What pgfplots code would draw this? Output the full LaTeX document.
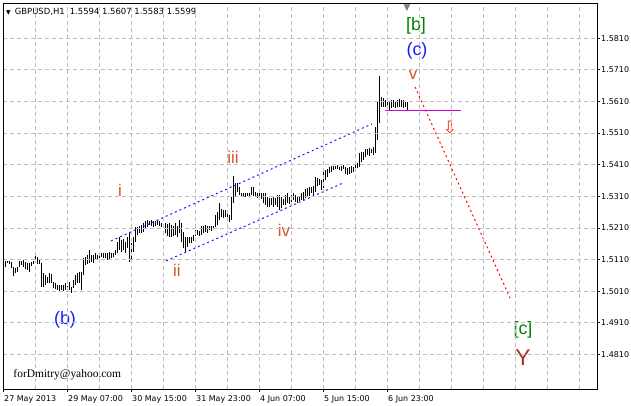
\documentclass[border=0pt]{standalone}
\usepackage{fontspec}
\setmainfont{DejaVu Sans}
\newfontfamily\arialfont{Liberation Sans}
\newfontfamily\serifont{Liberation Serif}
\usepackage{pgfplots}
\pgfplotsset{compat=1.18}
\usepackage{pgfplotstable}

\definecolor{wavered}{RGB}{205,85,40}
\definecolor{wavebrown}{RGB}{170,50,40}
\definecolor{waveblue}{RGB}{25,25,255}
\definecolor{wavegreen}{RGB}{0,128,0}
\definecolor{gridgray}{RGB}{190,190,190}
\definecolor{levelmag}{RGB}{215,0,215}

% GBPUSD H1 bars: bar number, low, high
\pgfplotstableread{
n lo hi
0 1.5087 1.5106
1 1.5100 1.5106
2 1.5096 1.5106
3 1.5084 1.5103
4 1.5058 1.5087
5 1.5068 1.5084
6 1.5071 1.5087
7 1.5087 1.5106
8 1.5093 1.5106
9 1.5087 1.5109
10 1.5081 1.5103
11 1.5077 1.5100
12 1.5071 1.5100
13 1.5090 1.5103
14 1.5096 1.5106
15 1.5100 1.5131
16 1.5096 1.5118
17 1.5096 1.5109
18 1.5024 1.5100
19 1.5024 1.5068
20 1.5030 1.5062
21 1.5036 1.5055
22 1.5036 1.5068
23 1.5036 1.5065
24 1.5021 1.5040
25 1.5018 1.5036
26 1.5014 1.5030
27 1.5011 1.5030
28 1.5014 1.5030
29 1.5011 1.5030
30 1.5014 1.5036
31 1.5014 1.5027
32 1.5014 1.5040
33 1.5005 1.5024
34 1.5021 1.5046
35 1.5030 1.5062
36 1.5036 1.5068
37 1.5036 1.5071
38 1.5014 1.5071
39 1.5062 1.5115
40 1.5093 1.5118
41 1.5096 1.5125
42 1.5100 1.5141
43 1.5103 1.5125
44 1.5100 1.5125
45 1.5109 1.5131
46 1.5109 1.5125
47 1.5115 1.5131
48 1.5118 1.5131
49 1.5115 1.5131
50 1.5115 1.5131
51 1.5109 1.5131
52 1.5109 1.5134
53 1.5115 1.5131
54 1.5118 1.5131
55 1.5125 1.5141
56 1.5131 1.5166
57 1.5141 1.5182
58 1.5134 1.5172
59 1.5141 1.5175
60 1.5131 1.5166
61 1.5147 1.5182
62 1.5103 1.5194
63 1.5103 1.5163
64 1.5134 1.5182
65 1.5166 1.5213
66 1.5188 1.5213
67 1.5194 1.5216
68 1.5194 1.5220
69 1.5197 1.5226
70 1.5207 1.5232
71 1.5213 1.5235
72 1.5220 1.5232
73 1.5216 1.5235
74 1.5213 1.5232
75 1.5216 1.5232
76 1.5220 1.5235
77 1.5216 1.5232
78 1.5213 1.5226
79 1.5210 1.5223
80 1.5194 1.5226
81 1.5185 1.5223
82 1.5182 1.5226
83 1.5182 1.5220
84 1.5185 1.5216
85 1.5188 1.5226
86 1.5182 1.5216
87 1.5194 1.5235
88 1.5166 1.5226
89 1.5147 1.5197
90 1.5134 1.5182
91 1.5150 1.5182
92 1.5163 1.5182
93 1.5163 1.5182
94 1.5169 1.5188
95 1.5185 1.5204
96 1.5188 1.5204
97 1.5185 1.5201
98 1.5188 1.5216
99 1.5194 1.5216
100 1.5197 1.5220
101 1.5194 1.5216
102 1.5204 1.5216
103 1.5201 1.5216
104 1.5207 1.5216
105 1.5213 1.5251
106 1.5220 1.5261
107 1.5235 1.5289
108 1.5245 1.5270
109 1.5242 1.5267
110 1.5245 1.5267
111 1.5235 1.5261
112 1.5229 1.5251
113 1.5235 1.5308
114 1.5289 1.5374
115 1.5308 1.5352
116 1.5324 1.5352
117 1.5314 1.5340
118 1.5308 1.5321
119 1.5308 1.5321
120 1.5308 1.5321
121 1.5311 1.5321
122 1.5308 1.5321
123 1.5314 1.5340
124 1.5311 1.5340
125 1.5308 1.5324
126 1.5305 1.5321
127 1.5308 1.5321
128 1.5302 1.5321
129 1.5289 1.5321
130 1.5283 1.5321
131 1.5276 1.5308
132 1.5276 1.5305
133 1.5283 1.5305
134 1.5276 1.5308
135 1.5283 1.5305
136 1.5276 1.5314
137 1.5267 1.5314
138 1.5273 1.5308
139 1.5283 1.5302
140 1.5283 1.5314
141 1.5289 1.5321
142 1.5286 1.5308
143 1.5292 1.5314
144 1.5299 1.5321
145 1.5292 1.5314
146 1.5289 1.5308
147 1.5295 1.5311
148 1.5299 1.5321
149 1.5299 1.5324
150 1.5305 1.5333
151 1.5308 1.5336
152 1.5311 1.5340
153 1.5321 1.5340
154 1.5308 1.5343
155 1.5324 1.5371
156 1.5343 1.5368
157 1.5346 1.5365
158 1.5330 1.5362
159 1.5336 1.5396
160 1.5362 1.5393
161 1.5371 1.5396
162 1.5384 1.5403
163 1.5387 1.5406
164 1.5393 1.5406
165 1.5396 1.5406
166 1.5396 1.5409
167 1.5393 1.5403
168 1.5390 1.5406
169 1.5396 1.5409
170 1.5381 1.5403
171 1.5378 1.5400
172 1.5381 1.5403
173 1.5384 1.5406
174 1.5387 1.5403
175 1.5396 1.5419
176 1.5400 1.5416
177 1.5403 1.5447
178 1.5419 1.5450
179 1.5425 1.5450
180 1.5434 1.5460
181 1.5441 1.5460
182 1.5438 1.5463
183 1.5447 1.5460
184 1.5441 1.5466
185 1.5447 1.5529
186 1.5488 1.5608
187 1.5542 1.5691
188 1.5592 1.5624
189 1.5592 1.5621
190 1.5592 1.5615
191 1.5592 1.5611
192 1.5583 1.5608
193 1.5589 1.5615
194 1.5592 1.5615
195 1.5589 1.5608
196 1.5592 1.5615
197 1.5592 1.5618
198 1.5592 1.5615
199 1.5589 1.5615
200 1.5592 1.5608
201 1.5583 1.5607
}\bars

\begin{document}
\begin{tikzpicture}
\fill[white] (0,0) rectangle (631bp,406bp);
\path[use as bounding box] (0,0) rectangle (631bp,406bp);
\begin{axis}[
    at={(3bp,17bp)}, anchor=south west,
    scale only axis,
    width=594bp, height=385bp,
    xmin=-1, xmax=296,
    ymin=1.4701, ymax=1.5918,
    axis line style={line width=1bp},
    tick align=outside,
    major tick length=3bp,
    minor tick length=0pt,
    tick style={black, line width=0.8bp},
    xtick pos=bottom, ytick pos=right,
    yticklabel pos=right,
    xtick={-1,31,63,95,127,159,191},
    xticklabels={27 May 2013, 29 May 07:00, 30 May 15:00, 31 May 23:00, 4 Jun 07:00, 5 Jun 15:00, 6 Jun 23:00},
    minor xtick={15,31,...,287},
    ytick={1.481,1.491,1.501,1.511,1.521,1.531,1.541,1.551,1.561,1.571,1.581},
    yticklabel={\pgfmathprintnumber[fixed,fixed zerofill,precision=4]{\tick}},
    /pgf/number format/assume math mode=true,
    ticklabel style={font=\fontsize{8}{9}\selectfont},
    xticklabel style={anchor=north west, inner sep=0pt, xshift=1bp, yshift=-3bp},
    yticklabel style={anchor=west, inner sep=0pt, xshift=1bp},
    xminorgrids, ymajorgrids, xmajorgrids=false,
    grid style={gridgray, line width=0.8bp, dash pattern=on 4bp off 3bp},
    minor grid style={gridgray, line width=0.8bp, dash pattern=on 4bp off 3bp},
    axis on top,
]
% price bars
\addplot[draw=none, mark=none,
    error bars/.cd, y dir=minus, y explicit, error mark=none,
    error bar style={draw=black, solid, line width=1bp}]
    table[x=n, y=hi, y error expr=\thisrow{hi}-\thisrow{lo}] {\bars};

% channel lines
\addplot[waveblue, line width=1bp, dash pattern=on 2bp off 3bp] coordinates {(53,1.5169) (183.5,1.5539)};
\addplot[waveblue, line width=1bp, dash pattern=on 2bp off 3bp] coordinates {(80.5,1.5106) (169,1.5352)};
% projection and level
\addplot[red, line width=1bp, dash pattern=on 2bp off 3bp] coordinates {(205,1.5656) (252.5,1.4989)};
\addplot[levelmag, line width=1bp] coordinates {(190,1.5580) (228,1.5580)};

% wave labels
\node[text=waveblue, font=\arialfont\fontsize{18}{18}\selectfont] at (axis cs:30,1.4919) {(b)};
\node[text=wavered, font=\arialfont\fontsize{17}{17}\selectfont] at (axis cs:57.5,1.5330) {i};
\node[text=wavered, font=\arialfont\fontsize{17}{17}\selectfont] at (axis cs:86,1.5077) {ii};
\node[text=wavered, font=\arialfont\fontsize{17}{17}\selectfont] at (axis cs:114,1.5434) {iii};
\node[text=wavered, font=\arialfont\fontsize{17}{17}\selectfont] at (axis cs:139.5,1.5204) {iv};
\node[text=wavered, font=\arialfont\fontsize{17}{17}\selectfont] at (axis cs:204,1.5694) {v};
\node[text=waveblue, font=\arialfont\fontsize{18}{18}\selectfont] at (axis cs:206,1.5770) {(c)};
\node[text=wavegreen, font=\arialfont\fontsize{18}{18}\selectfont] at (axis cs:205.5,1.5849) {[b]};
\node[text=wavegreen, font=\arialfont\fontsize{18}{18}\selectfont] at (axis cs:259,1.4888) {[c]};
\node[text=wavebrown, font=\arialfont\fontsize{23}{23}\selectfont] at (axis cs:259,1.4799) {Y};
\node[text=red!80!orange, font=\fontsize{17}{17}\selectfont] at (axis cs:222.5,1.5527) {⇩};

% chart header, shift marker, signature
\node[anchor=base west, inner sep=0pt, font=\fontsize{8.5}{9}\selectfont] at (rel axis cs:0,1) [xshift=3bp, yshift=-11bp] {{\fontsize{6}{6}\selectfont ▼}\hspace{4bp}GBPUSD,H1\hspace{5bp}1.5594 1.5607 1.5583 1.5599};
\node[anchor=north, inner sep=0pt, text=gray, font=\fontsize{9}{9}\selectfont] at (axis cs:201,1.5918) [yshift=-1bp] {▼};
\node[anchor=base west, inner sep=0pt, font=\serifont\fontsize{11.5}{12}\selectfont] at (axis cs:4.15,1.4736) {forDmitry@yahoo.com};
\end{axis}
\end{tikzpicture}
\end{document}
